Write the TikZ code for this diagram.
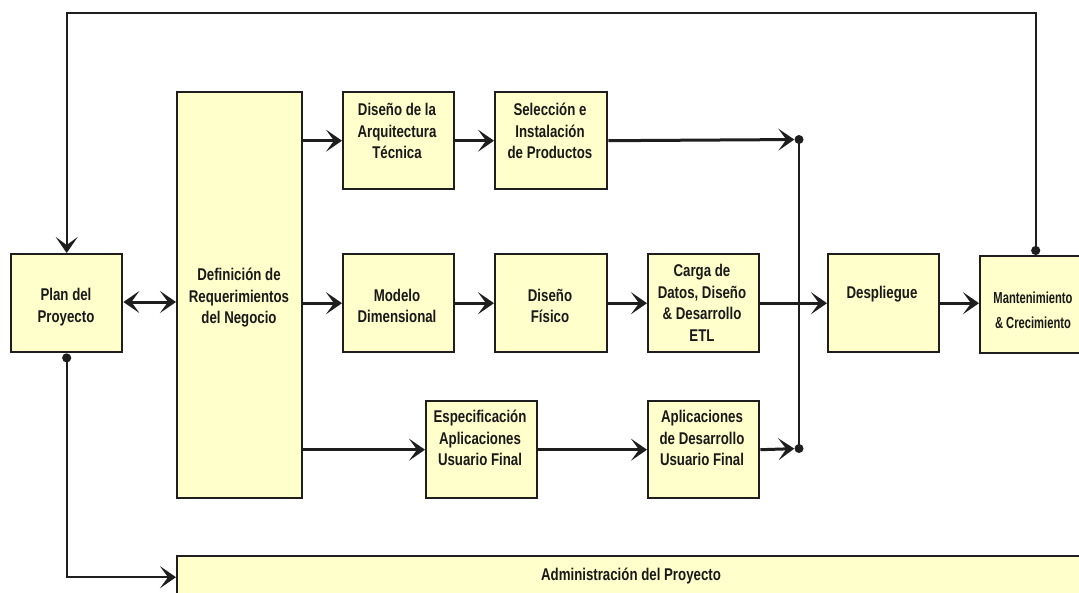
\documentclass[tikz,border=0pt]{standalone}
\usepackage{fontspec}
\newfontfamily\stagefont{Liberation Sans Bold}[FakeStretch=0.78]
\newfontfamily\narrowfont{Liberation Sans Bold}[FakeStretch=0.7]
\usetikzlibrary{arrows.meta}
\definecolor{boxfill}{RGB}{255,255,204}
\definecolor{edge}{RGB}{30,30,30}
\tikzset{
  stage/.style={draw=edge, line width=2.4pt, fill=boxfill, inner sep=0pt,
    anchor=north west, rectangle},
  lbl/.style={align=center, font=\stagefont\fontsize{17}{21.5}\selectfont,
    text=black!90, inner sep=0pt},
  flow/.style={draw=edge, line width=3pt,
    -{Stealth[length=16pt,width=22pt,inset=8pt]}},
  both/.style={draw=edge, line width=3pt,
    {Stealth[length=16pt,width=22pt,inset=8pt]}-{Stealth[length=16pt,width=22pt,inset=8pt]}},
  feedback/.style={draw=edge, line width=2.2pt,
    {Circle[length=9pt]}-{Stealth[length=16pt,width=22pt,inset=8pt]}},
  bus/.style={draw=edge, line width=2pt},
  dot/.style={circle, fill=edge, inner sep=0pt, minimum size=9pt},
}
\begin{document}
\begin{tikzpicture}[x=1pt, y=-1pt]
  \useasboundingbox (0,0) rectangle (1079,592);
  \clip (0,0) rectangle (1079,592);
  \fill[white] (0,0) rectangle (1079,592);

  % stage boxes (top-left corner, width, height)
  \node[stage, minimum width=111pt, minimum height=98pt]  (plan)  at (10,253)  {};
  \node[stage, minimum width=125pt, minimum height=406pt] (def)   at (176,91)  {};
  \node[stage, minimum width=111pt, minimum height=97pt]  (arq)   at (342,91)  {};
  \node[stage, minimum width=112pt, minimum height=97pt]  (sel)   at (494,91)  {};
  \node[stage, minimum width=111pt, minimum height=98pt]  (mod)   at (342,253) {};
  \node[stage, minimum width=112pt, minimum height=98pt]  (fis)   at (494,253) {};
  \node[stage, minimum width=111pt, minimum height=98pt]  (carga) at (647,253) {};
  \node[stage, minimum width=111pt, minimum height=98pt]  (desp)  at (827,253) {};
  \node[stage, minimum width=111pt, minimum height=97pt]  (mant)  at (979,255) {};
  \node[stage, minimum width=111pt, minimum height=97pt]  (esp)   at (425,400) {};
  \node[stage, minimum width=111pt, minimum height=97pt]  (apl)   at (647,400) {};
  \node[stage, minimum width=920pt, minimum height=42pt]  (admin) at (176,555) {};

  % labels
  \node[lbl] (planT)  at (66,307)  {Plan del\\Proyecto};
  \node[lbl] (defT)   at (239,298) {Definición de\\Requerimientos\\del Negocio};
  \node[lbl] (arqT)   at (397,131) {Diseño de la\\Arquitectura\\Técnica};
  \node[lbl] (selT)   at (550,131) {Selección e\\Instalación\\de Productos};
  \node[lbl] (modT)   at (397,306) {Modelo\\Dimensional};
  \node[lbl] (fisT)   at (550,306) {Diseño\\Físico};
  \node[lbl] (cargaT) at (702,303) {Carga de\\Datos, Diseño\\\& Desarrollo\\ETL};
  \node[lbl] (despT)  at (882,294) {Despliegue};
  \node[lbl, font=\narrowfont\fontsize{16}{25}\selectfont] (mantT) at (1033,310) {Mantenimiento\\\& Crecimiento};
  \node[lbl] (espT)   at (480,438) {Especificación\\Aplicaciones\\Usuario Final};
  \node[lbl] (aplT)   at (702,438) {Aplicaciones\\de Desarrollo\\Usuario Final};
  \node[lbl] (adminT) at (631,576) {Administración del Proyecto};

  % junctions on the collecting line
  \node[dot] (j1) at (799,139.5) {};
  \node[dot] (j2) at (799,448.5) {};

  % connectors
  \draw[both] (plan.east |- 0,302) -- (def.west |- 0,302);
  \draw[flow] (arq.west -| def.east) -- (arq.west);
  \draw[flow] (mod.west -| def.east) -- (mod.west);
  \draw[flow] (esp.west -| def.east) -- (esp.west);
  \draw[flow] (arq) -- (sel);
  \draw[flow] (mod) -- (fis);
  \draw[flow] (fis) -- (carga);
  \draw[flow] (esp) -- (apl);
  \draw[flow] (sel.east) -- (j1);
  \draw[flow] (apl.east) -- (j2);
  \draw[bus] (j1.center) -- (j2.center);
  \draw[flow] (carga) -- (desp);
  \draw[flow] (desp) -- (mant.west |- desp.east);
  \draw[feedback] (mant.north) -- (mant.north |- 0,13) -- (plan.north |- 0,13) -- (plan.north);
  \draw[feedback] (plan.south) -- (plan.south |- admin.west) -- (admin.west);
\end{tikzpicture}
\end{document}
